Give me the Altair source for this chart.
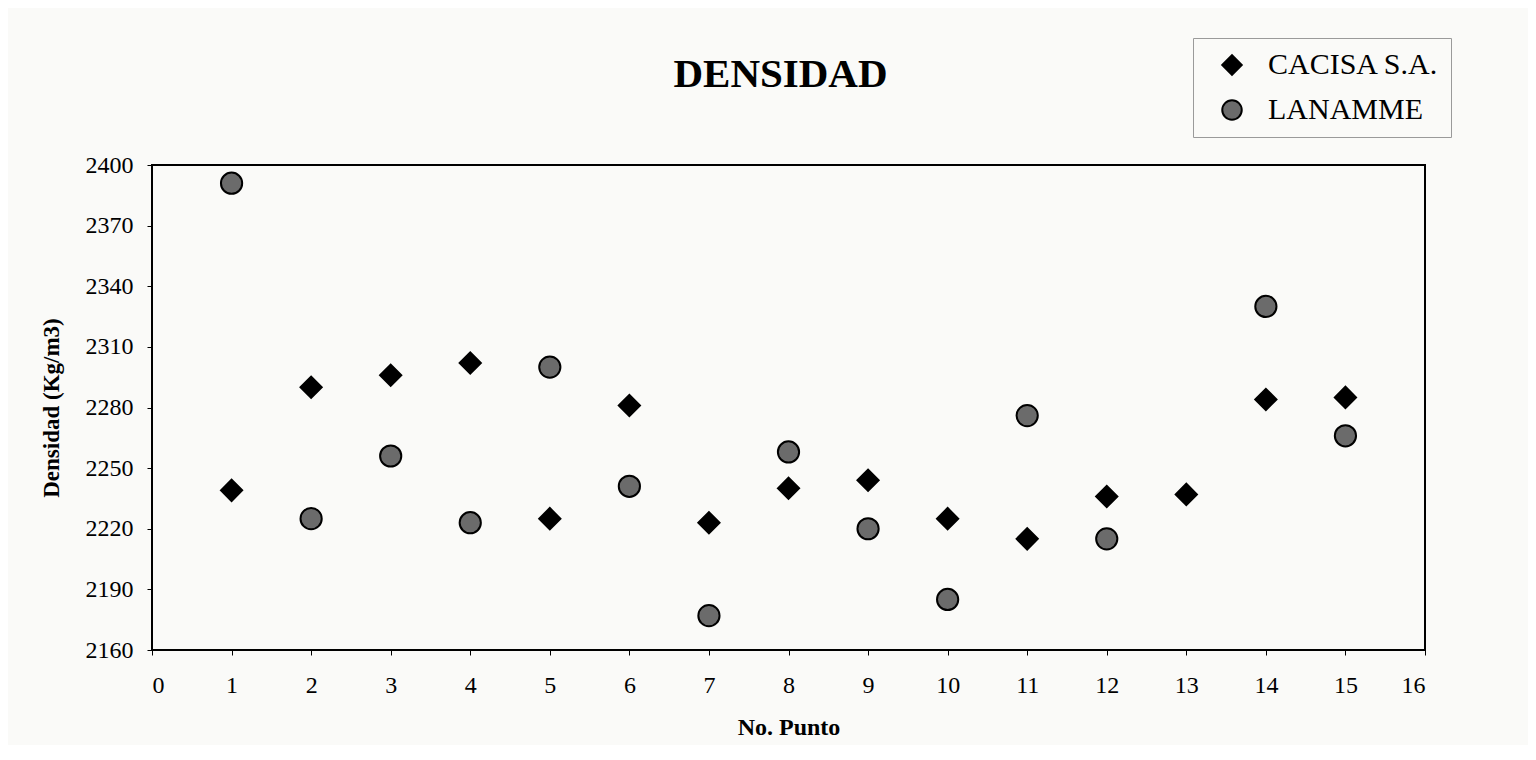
import altair as alt
import pandas as pd

# ---- data ----
series = ["CACISA S.A.", "LANAMME"]
cacisa_puntos = list(range(1, 16))
cacisa = [2239, 2290, 2296, 2302, 2225, 2281, 2223, 2240, 2244, 2225, 2215, 2236, 2237, 2284, 2285]
lanamme_puntos = [1, 2, 3, 4, 5, 6, 7, 8, 9, 10, 11, 12, 14, 15]
lanamme = [2391, 2225, 2256, 2223, 2300, 2241, 2177, 2258, 2220, 2185, 2276, 2215, 2330, 2266]
x_ticks = list(range(0, 17))
y_ticks = list(range(2160, 2401, 30))

rows = [{"punto": p, "densidad": v, "serie": series[0]} for p, v in zip(cacisa_puntos, cacisa)]
rows += [{"punto": p, "densidad": v, "serie": series[1]} for p, v in zip(lanamme_puntos, lanamme)]
df = pd.DataFrame(rows)

FONT = "Liberation Serif"
BG = "#fafaf8"

legend = alt.Legend(
    title=None, orient="none", legendX=1041, legendY=-127,
    labelFont=FONT, labelFontSize=30, labelColor="black", labelLimit=0,
    symbolSize=380, symbolStrokeColor="black", symbolStrokeWidth=2,
    strokeColor="#9a9a9a", fillColor=BG, padding=12,
    rowPadding=15, symbolOffset=12, labelOffset=21,
)

chart = alt.Chart(df).mark_point(
    filled=True, opacity=1, strokeWidth=2, size=450
).encode(
    x=alt.X(
        "punto:Q",
        scale=alt.Scale(domain=[0, 16], nice=False, zero=False),
        axis=alt.Axis(
            values=x_ticks, title="No. Punto", format="d",
            labelFont=FONT, labelFontSize=24, labelColor="black",
            titleFont=FONT, titleFontSize=24, titleFontWeight="bold", titleColor="black",
            tickColor="black", tickSize=5, labelPadding=18, titlePadding=18,
            grid=False, domain=False,
        ),
    ),
    y=alt.Y(
        "densidad:Q",
        scale=alt.Scale(domain=[2160, 2400], nice=False, zero=False),
        axis=alt.Axis(
            values=y_ticks, title="Densidad (Kg/m3)", format="d",
            labelFont=FONT, labelFontSize=24, labelColor="black",
            titleFont=FONT, titleFontSize=23, titleFontWeight="bold", titleColor="black",
            tickColor="black", tickSize=5, labelPadding=14, titlePadding=22,
            grid=False, domain=False,
        ),
    ),
    shape=alt.Shape(
        "serie:N",
        scale=alt.Scale(domain=series, range=["diamond", "circle"]),
        legend=legend,
    ),
    fill=alt.Fill(
        "serie:N",
        scale=alt.Scale(domain=series, range=["#000000", "#6b6b6b"]),
        legend=legend,
    ),
    stroke=alt.Stroke(
        "serie:N",
        scale=alt.Scale(domain=series, range=["#000000", "#000000"]),
        legend=legend,
    ),
).properties(
    width=1273,
    height=485,
    autosize=alt.AutoSizeParams(type="none"),
    padding={"left": 144, "top": 157, "right": 103, "bottom": 95},
    title=alt.TitleParams(
        "DENSIDAD", font=FONT, fontSize=41, fontWeight="bold", color="black",
        anchor="middle", dx=-8, offset=0, dy=58,
    ),
).configure(
    background=BG,
).configure_view(
    stroke="black", strokeWidth=2, fill=BG,
)

chart.save("out.html", embed_options={"renderer": "svg", "actions": False})
